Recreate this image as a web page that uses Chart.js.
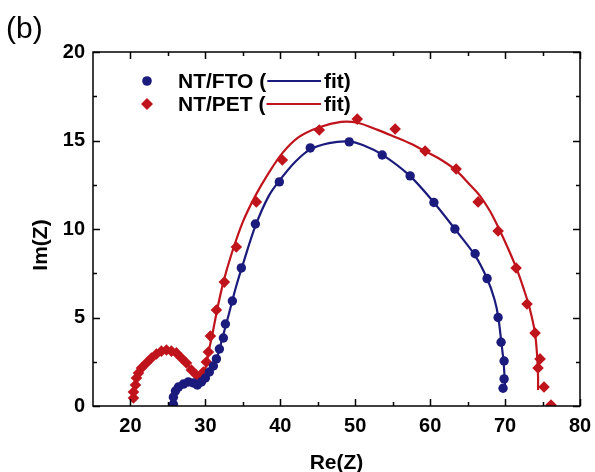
<!DOCTYPE html>
<html>
<head>
<meta charset="utf-8">
<script src="https://cdn.jsdelivr.net/npm/chart.js@4.4.1/dist/chart.umd.min.js"></script>
<style>
  html, body { margin: 0; padding: 0; background: #fff; overflow: hidden; }
  #wrap { width: 595px; height: 472px; position: relative; }
</style>
</head>
<body>
<div id="wrap"><canvas id="nyquist"></canvas></div>
<script>
// measured points [Re(Z), Im(Z)]
const ftoPoints = [
  [25.73, 0.1], [25.73, 0.5], [26.0, 0.85], [26.4, 1.07], [27.07, 1.24], [27.73, 1.36],
  [28.4, 1.3], [28.93, 1.19], [29.47, 1.36], [30.0, 1.58], [30.53, 1.92], [31.07, 2.26],
  [31.47, 2.66], [31.87, 3.22], [32.4, 3.84], [32.67, 4.63], [33.6, 5.93], [34.8, 7.8],
  [36.67, 10.28], [39.87, 12.66], [44.0, 14.58], [49.2, 14.92], [53.6, 14.18], [57.33, 13.0],
  [60.5, 11.5], [63.3, 10.0], [66.0, 8.6], [67.6, 7.2], [69.07, 5.0], [69.47, 3.6],
  [69.87, 2.54], [69.87, 1.53], [69.73, 1.0]
];
const petPoints = [
  [20.4, 0.45], [20.4, 0.79], [20.67, 1.19], [20.8, 1.58], [21.07, 1.86], [21.47, 2.15],
  [22.13, 2.43], [22.8, 2.71], [23.47, 2.94], [24.13, 3.1], [24.8, 3.16], [25.47, 3.1],
  [26.13, 3.0], [26.8, 2.71], [27.47, 2.43], [28.13, 2.03], [28.8, 1.75], [29.33, 1.47],
  [29.73, 1.92], [30.13, 2.49], [30.4, 3.05], [30.67, 3.95], [31.47, 5.42], [32.53, 7.0],
  [34.13, 8.98], [36.8, 11.53], [40.27, 13.9], [45.2, 15.59], [50.27, 16.21], [55.33, 15.65],
  [59.33, 14.41], [63.47, 13.39], [66.4, 11.53], [69.07, 9.89], [71.47, 7.8], [72.93, 5.76],
  [74.0, 4.12], [74.67, 2.66], [74.4, 2.15], [75.2, 1.07], [76.13, 0.06]
];
// fitted curves
const ftoFit = [
  [25.9, 0.1], [26.0, 0.7], [26.5, 1.1], [27.2, 1.3], [27.9, 1.35], [28.6, 1.22], [29.0, 1.18],
  [29.5, 1.35], [30.0, 1.6], [30.6, 1.95], [31.1, 2.3], [31.6, 2.8], [32.0, 3.4], [32.5, 4.2],
  [33.2, 5.3], [34.0, 6.6], [35.0, 8.0], [36.7, 10.2], [38.5, 11.9], [40.0, 12.8], [42.0, 13.8],
  [44.0, 14.5], [46.5, 14.85], [49.0, 14.95], [51.0, 14.75], [53.6, 14.2], [57.3, 13.0],
  [60.5, 11.5], [63.3, 10.0], [66.0, 8.5], [67.6, 7.2], [68.6, 6.0], [69.1, 5.0], [69.5, 3.6],
  [69.8, 2.5], [69.95, 1.5], [70.05, 0.9]
];
const petFit = [
  [20.4, 0.4], [20.6, 1.0], [20.9, 1.6], [21.4, 2.1], [22.1, 2.5], [22.9, 2.8], [23.7, 3.0],
  [24.5, 3.1], [25.3, 3.1], [26.1, 2.95], [26.9, 2.7], [27.6, 2.35], [28.3, 1.95], [28.9, 1.6],
  [29.3, 1.4], [29.7, 1.7], [30.1, 2.3], [30.5, 3.2], [31.0, 4.2], [31.6, 5.5], [32.4, 7.0],
  [33.5, 8.6], [35.0, 10.4], [36.7, 11.9], [38.5, 13.2], [40.3, 14.3], [42.5, 15.2], [45.2, 15.75],
  [48.1, 16.05], [50.3, 16.0], [53.0, 15.6], [55.3, 15.2], [57.5, 14.8], [59.3, 14.4], [61.5, 13.9],
  [63.5, 13.3], [65.3, 12.5], [66.6, 11.9], [68.0, 11.0], [69.2, 10.0], [70.4, 8.9], [71.5, 7.8],
  [72.5, 6.6], [73.3, 5.5], [74.0, 4.1], [74.3, 2.7], [74.4, 1.7], [74.4, 0.9]
];

const xTicks = [20, 30, 40, 50, 60, 70, 80];
const xMinor = [25, 35, 45, 55, 65, 75];
const yTicks = [0, 5, 10, 15, 20];
const yMinor = [2.5, 7.5, 12.5, 17.5];

const BLUE = "#1b1b7d";
const RED = "#c0141c";
const FONT = "Arial, 'Liberation Sans', sans-serif";
const toXY = (arr) => arr.map(([x, y]) => ({ x, y }));

// inward ticks on all four sides, frame, legend, y title and panel label
const framePlugin = {
  id: "frame",
  afterDraw(chart) {
    const { ctx, chartArea: a, scales: { x, y } } = chart;
    ctx.save();
    ctx.strokeStyle = "#000";
    ctx.lineWidth = 1.5;
    ctx.strokeRect(a.left, a.top, a.right - a.left, a.bottom - a.top);
    ctx.beginPath();
    const tx = (vals, len) => vals.forEach(v => {
      const px = Math.round(x.getPixelForValue(v)) + 0.5;
      ctx.moveTo(px, a.bottom); ctx.lineTo(px, a.bottom - len);
      ctx.moveTo(px, a.top); ctx.lineTo(px, a.top + len);
    });
    const ty = (vals, len) => vals.forEach(v => {
      const py = Math.round(y.getPixelForValue(v)) + 0.5;
      ctx.moveTo(a.left, py); ctx.lineTo(a.left + len, py);
      ctx.moveTo(a.right, py); ctx.lineTo(a.right - len, py);
    });
    tx(xTicks, 7); tx(xMinor, 4); ty(yTicks, 7); ty(yMinor, 4);
    ctx.stroke();

    // legend
    ctx.font = "bold 21px " + FONT;
    ctx.textBaseline = "middle";
    const rows = [
      { label: "NT/FTO (", color: BLUE, y: 81, mark: "circle" },
      { label: "NT/PET (", color: RED, y: 104, mark: "diamond" }
    ];
    rows.forEach(r => {
      ctx.fillStyle = r.color;
      ctx.beginPath();
      if (r.mark === "circle") {
        ctx.arc(147, r.y, 4.8, 0, Math.PI * 2);
      } else {
        ctx.moveTo(147, r.y - 6); ctx.lineTo(153, r.y); ctx.lineTo(147, r.y + 6); ctx.lineTo(141, r.y);
        ctx.closePath();
      }
      ctx.fill();
      ctx.fillStyle = "#000";
      ctx.fillText(r.label, 178, r.y + 1);
      const lineStart = 178 + ctx.measureText(r.label).width + 1;
      ctx.strokeStyle = r.color;
      ctx.lineWidth = 2;
      ctx.beginPath();
      ctx.moveTo(lineStart, r.y); ctx.lineTo(321, r.y);
      ctx.stroke();
      ctx.fillText("fit)", 324, r.y + 1);
    });

    // y axis title
    ctx.save();
    ctx.translate(41, 245);
    ctx.rotate(-Math.PI / 2);
    ctx.textAlign = "center";
    ctx.fillStyle = "#000";
    ctx.fillText("Im(Z)", 0, 0);
    ctx.restore();

    ctx.font = "30px " + FONT;
    ctx.fillStyle = "#000";
    ctx.textAlign = "left";
    ctx.fillText("(b)", 6, 30);
    ctx.restore();
  }
};

const tickFont = { family: FONT, size: 20, weight: "bold" };
const titleFont = { family: FONT, size: 21, weight: "bold", lineHeight: 0.85 };

new Chart(document.getElementById("nyquist"), {
  type: "scatter",
  data: {
    datasets: [
      { label: "NT/FTO", data: toXY(ftoPoints), pointStyle: "circle", pointRadius: 4.7,
        backgroundColor: BLUE, borderColor: BLUE, borderWidth: 0, showLine: false },
      { label: "NT/PET", data: toXY(petPoints), pointStyle: "rectRot", pointRadius: 5.8,
        backgroundColor: RED, borderColor: RED, borderWidth: 0, showLine: false },
      { label: "NT/FTO fit", data: toXY(ftoFit), showLine: true, pointRadius: 0,
        borderColor: BLUE, borderWidth: 2.2, tension: 0.3 },
      { label: "NT/PET fit", data: toXY(petFit), showLine: true, pointRadius: 0,
        borderColor: RED, borderWidth: 2.2, tension: 0.3 }
    ]
  },
  options: {
    responsive: true,
    maintainAspectRatio: false,
    animation: false,
    layout: { padding: { left: 0, top: 52, right: 15, bottom: 0 } },
    plugins: { legend: { display: false }, tooltip: { enabled: false } },
    scales: {
      x: {
        type: "linear", min: 15, max: 80,
        afterBuildTicks: (s) => { s.ticks = xTicks.map(v => ({ value: v })); },
        afterFit: (s) => { s.height = 66; s.paddingLeft = 0; s.paddingRight = 0; },
        grid: { display: false, drawTicks: false },
        border: { display: false },
        ticks: { color: "#000", font: tickFont, padding: 8, maxRotation: 0 },
        title: { display: true, text: "Re(Z)", color: "#000", font: titleFont, padding: { top: 0, bottom: 0 } }
      },
      y: {
        type: "linear", min: 0, max: 20,
        afterBuildTicks: (s) => { s.ticks = yTicks.map(v => ({ value: v })); },
        afterFit: (s) => { s.width = 93; },
        grid: { display: false, drawTicks: false },
        border: { display: false },
        ticks: { color: "#000", font: tickFont, padding: 8 },
        title: { display: false }
      }
    }
  },
  plugins: [framePlugin]
});
</script>
</body>
</html>
